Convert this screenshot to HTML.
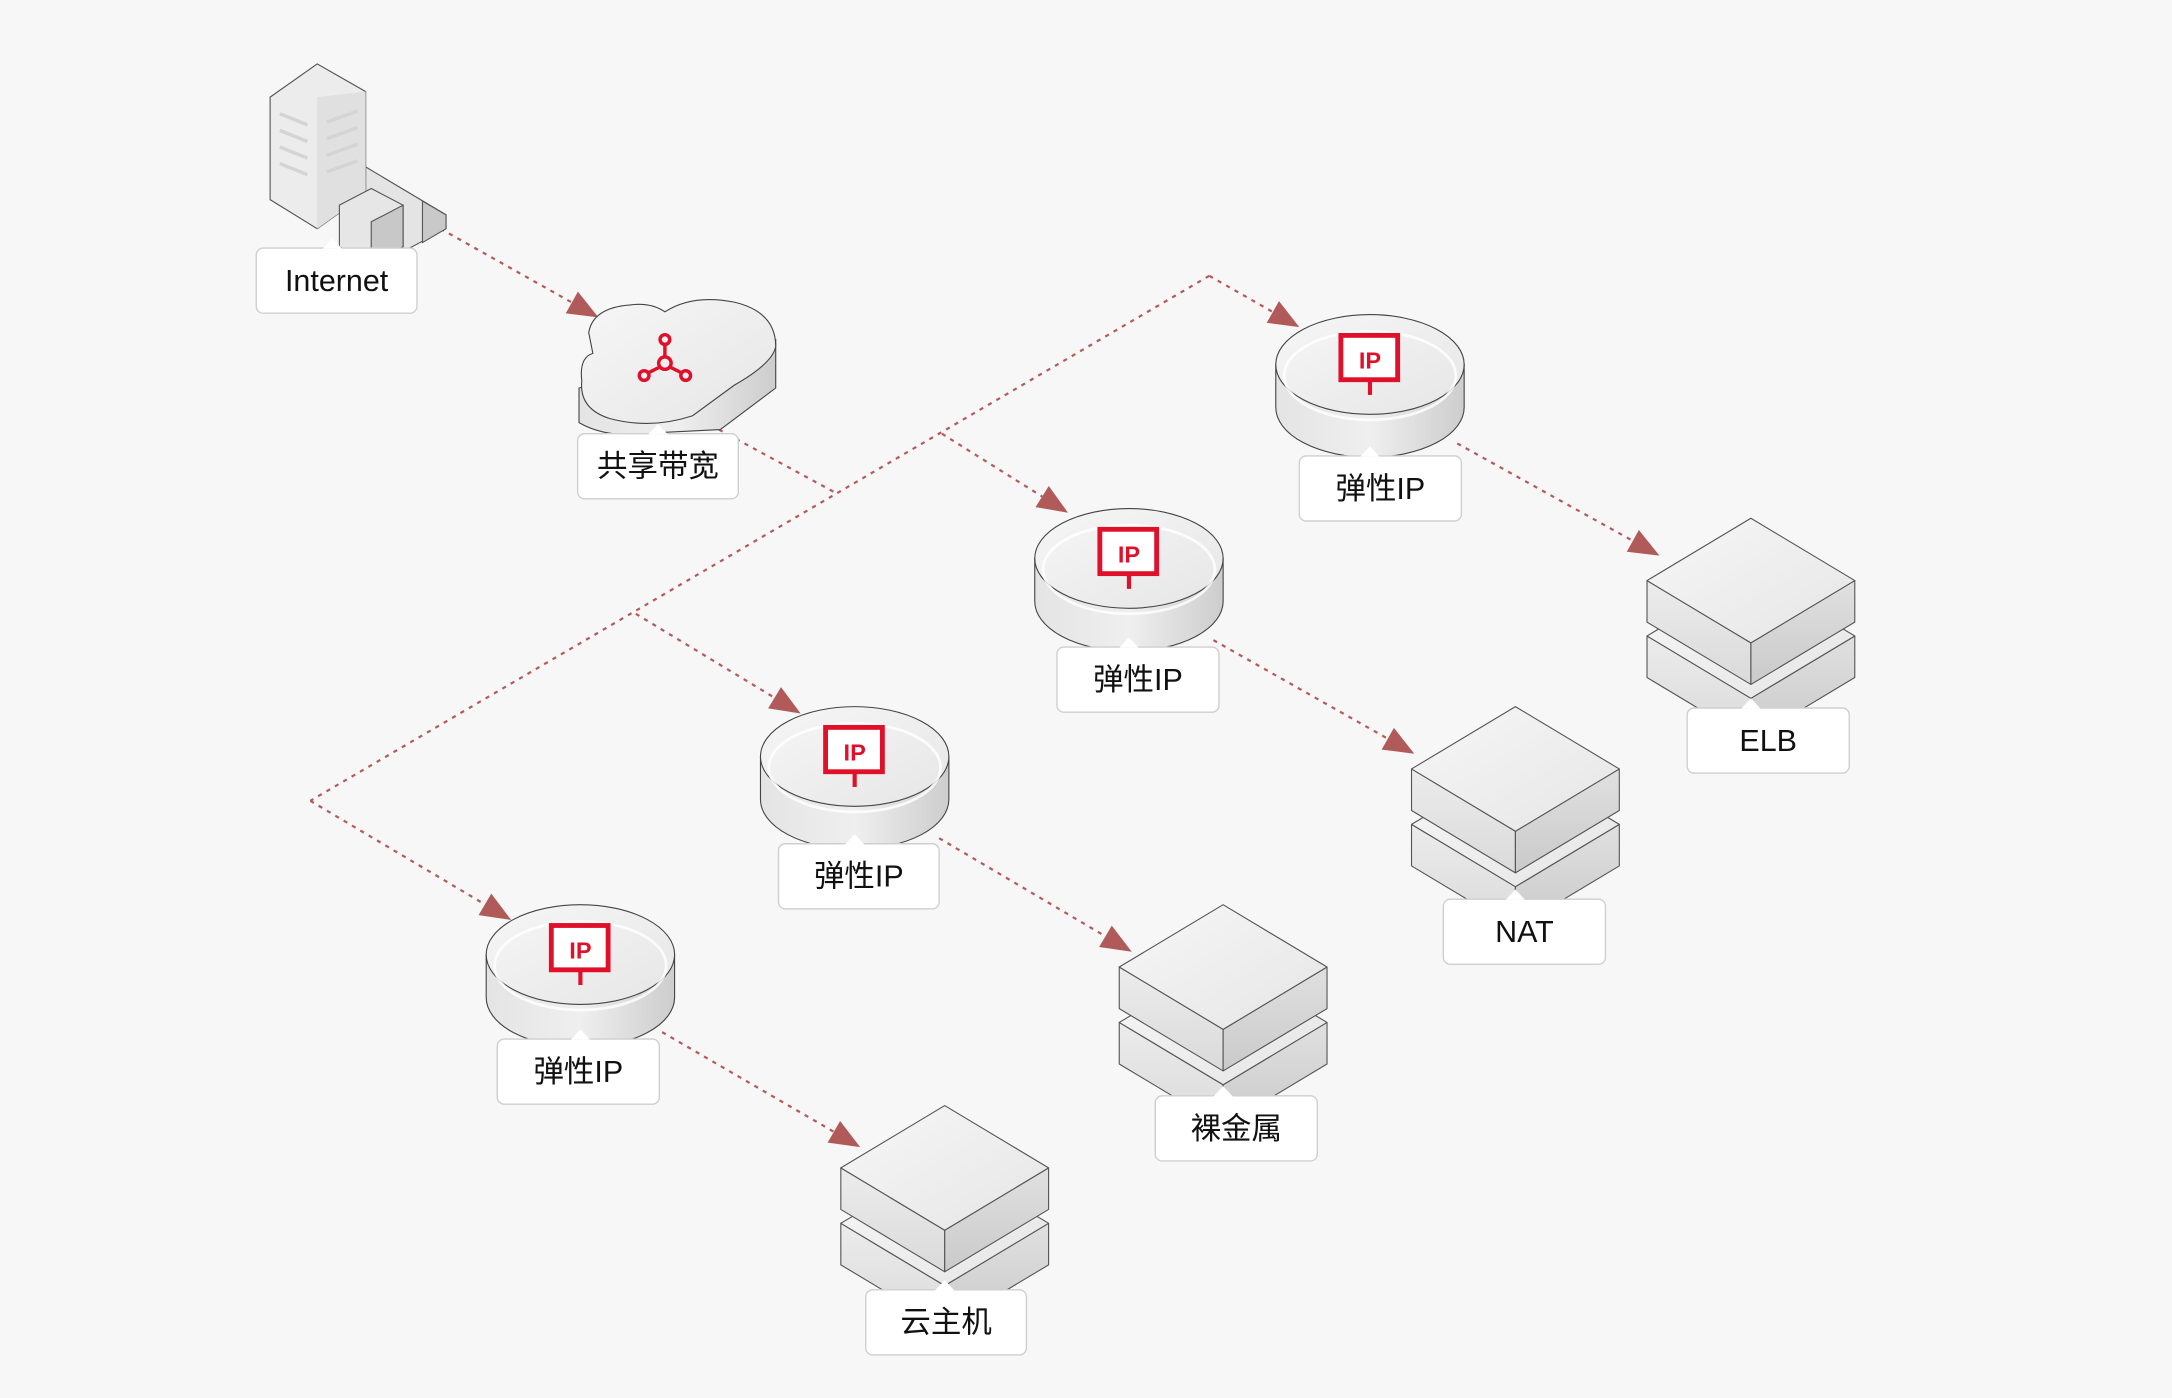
<!DOCTYPE html>
<html><head><meta charset="utf-8"><style>
html,body{margin:0;padding:0;background:#f7f7f7;}
svg{display:block;}
text{font-family:"Liberation Sans","Noto Sans CJK SC",sans-serif;}
</style></head><body>
<svg id="s" width="2172" height="1398" viewBox="0 0 1568 1009" xmlns="http://www.w3.org/2000/svg">
<defs>
<linearGradient id="gt" x1="0" y1="0" x2="1" y2="1"><stop offset="0" stop-color="#f6f6f6"/><stop offset="1" stop-color="#e6e6e6"/></linearGradient>
<linearGradient id="gl" x1="0" y1="0" x2="0" y2="1"><stop offset="0" stop-color="#ececec"/><stop offset="1" stop-color="#dadada"/></linearGradient>
<linearGradient id="gr" x1="0" y1="0" x2="0" y2="1"><stop offset="0" stop-color="#e0e0e0"/><stop offset="1" stop-color="#cacaca"/></linearGradient>
<linearGradient id="gc" x1="0" y1="0" x2="1" y2="0"><stop offset="0" stop-color="#e4e4e4"/><stop offset="0.5" stop-color="#efefef"/><stop offset="1" stop-color="#cdcdcd"/></linearGradient>
</defs>
<g id="lines" stroke="#b55a5a" stroke-width="1.6" stroke-dasharray="3,4" fill="none"></g>
<g id="nodes"></g>
</svg>
<script>
const NS="http://www.w3.org/2000/svg";
const L=document.getElementById('lines'),N=document.getElementById('nodes');
function el(p,t,a,txt){const e=document.createElementNS(NS,t);for(const k in a)e.setAttribute(k,a[k]);if(txt)e.textContent=txt;p.appendChild(e);return e;}
function line(x1,y1,x2,y2,arrow){
  if(arrow){
    const dx=x2-x1,dy=y2-y1,l=Math.hypot(dx,dy),ux=dx/l,uy=dy/l;
    const bx=x2-ux*22,by=y2-uy*22;
    el(L,'path',{d:`M${x1},${y1}L${bx},${by}`});
    el(N,'path',{d:`M${x2},${y2}L${bx-uy*9},${by+ux*9}L${bx+uy*9},${by-ux*9}z`,fill:'#b05a5a',stroke:'none'});
  } else el(L,'path',{d:`M${x1},${y1}L${x2},${y2}`});
}
line(318,165,432,229,1);
line(519,310,602,355);
line(873,199,224,578);
line(873,199,938,236,1);
line(680,313,771,370,1);
line(459,443,578,515,1);
line(224,578,369,664,1);
line(1052,320,1198,401,1);
line(876,462,1021,544,1);
line(678,605,817,687,1);
line(478,745,621,828,1);

function label(x,y,w,txt,pt){
  const g=el(N,'g',{});
  el(g,'rect',{x:x,y:y,width:w,height:47,rx:5,fill:'#fff',stroke:'#cfcfcf','stroke-width':1});
  const cx=pt||x+w/2;
  el(g,'path',{d:`M${cx-7},${y+0.5}L${cx},${y-7}L${cx+7},${y+0.5}z`,fill:'#fff'});
  el(g,'text',{x:x+w/2,y:y+31,'text-anchor':'middle','font-size':22,fill:'#111'},txt);
}
function slab(g,cx,t){
  const w=75,h=45,d=30;
  el(g,'path',{d:`M${cx-w},${t+h}L${cx},${t+2*h}L${cx},${t+2*h+d}L${cx-w},${t+h+d}z`,fill:'url(#gl)',stroke:'#555','stroke-width':0.8,'stroke-linejoin':'round'});
  el(g,'path',{d:`M${cx+w},${t+h}L${cx},${t+2*h}L${cx},${t+2*h+d}L${cx+w},${t+h+d}z`,fill:'url(#gr)',stroke:'#555','stroke-width':0.8,'stroke-linejoin':'round'});
  el(g,'path',{d:`M${cx},${t}L${cx+w},${t+h}L${cx},${t+2*h}L${cx-w},${t+h}z`,fill:'url(#gt)',stroke:'#555','stroke-width':0.8,'stroke-linejoin':'round'});
}
function box(cx,t){const g=el(N,'g',{});slab(g,cx,t+40);slab(g,cx,t);}
function cyl(cx,t){
  const g=el(N,'g',{});const rx=68,ry=36,top=t+ry,bot=t+103-ry;
  el(g,'path',{d:`M${cx-rx},${top}L${cx-rx},${bot}A${rx},${ry} 0 0 0 ${cx+rx},${bot}L${cx+rx},${top}z`,fill:'url(#gc)',stroke:'#444','stroke-width':0.8});
  el(g,'ellipse',{cx:cx,cy:top,rx:rx,ry:ry,fill:'url(#gt)',stroke:'#444','stroke-width':0.8});
  el(g,'ellipse',{cx:cx,cy:top+8,rx:rx-6,ry:ry-4,fill:'none',stroke:'#fff','stroke-width':2,opacity:0.8});
  const ix=cx-21,iy=t+15;
  el(g,'rect',{x:ix,y:iy,width:41,height:32,fill:'#fff',stroke:'#e0102a','stroke-width':3.5});
  el(g,'path',{d:`M${cx},${iy+33}L${cx},${iy+43}`,stroke:'#e0102a','stroke-width':3});
  el(g,'text',{x:cx,y:iy+24,'text-anchor':'middle','font-size':17,'font-weight':'bold',fill:'#e0102a'},'IP');
}
(function(){
  const g=el(N,'g',{stroke:'#555','stroke-width':0.8});
  el(g,'path',{d:'M255,115L322,155L322,165L290,182L255,160z',fill:'#e4e4e4'});
  el(g,'path',{d:'M305,145L322,155L322,165L305,175z',fill:'#c9c9c9'});
  el(g,'path',{d:'M195,70L229,46L264,66L264,140L229,165L195,144z',fill:'#ececec'});
  el(g,'path',{d:'M229,70L264,66L264,140L229,165z',fill:'#e0e0e0',stroke:'none'});
  for(let i=0;i<4;i++){el(g,'path',{d:`M202,${82+i*12}L222,${90+i*12}`,stroke:'#d4d4d4','stroke-width':2.5});el(g,'path',{d:`M236,${88+i*12}L258,${80+i*12}`,stroke:'#d4d4d4','stroke-width':2.5});}
  el(g,'path',{d:'M245,148L268,136L291,148L291,178L268,190L245,178z',fill:'#e6e6e6'});
  el(g,'path',{d:'M268,160L291,148L291,178L268,190z',fill:'#c8c8c8'});
})();
(function(){
  const g=el(N,'g',{});
  el(g,'path',{d:'M418,280 L418,305 Q440,318 480,312 L520,310 L560,280 L560,245 Z',fill:'url(#gc)',stroke:'#444','stroke-width':0.8});
  el(g,'path',{d:'M425,240 Q428,222 455,220 Q470,218 480,225 Q500,212 530,218 Q560,225 560,250 Q558,262 530,278 L500,300 Q470,310 440,302 Q418,295 420,275 Q418,258 428,255 Z',fill:'url(#gt)',stroke:'#444','stroke-width':0.8});
  el(g,'circle',{cx:480,cy:245,r:3.5,fill:'none',stroke:'#e0102a','stroke-width':2.5});
  el(g,'circle',{cx:480,cy:262,r:4.5,fill:'none',stroke:'#e0102a','stroke-width':2.5});
  el(g,'circle',{cx:465,cy:271,r:3.5,fill:'none',stroke:'#e0102a','stroke-width':2.5});
  el(g,'circle',{cx:495,cy:271,r:3.5,fill:'none',stroke:'#e0102a','stroke-width':2.5});
  el(g,'path',{d:'M480,249L480,257M476,265L468,269M484,265L492,269',stroke:'#e0102a','stroke-width':2.5});
})();
cyl(989,227);cyl(815,367);cyl(617,510);cyl(419,653);
box(1264,374);box(1094,510);box(883,653);box(682,798);
label(185,179,116,'Internet',240);
label(417,313,116,'共享带宽',475);
label(938,329,117,'弹性IP',989);
label(763,467,117,'弹性IP',815);
label(562,609,116,'弹性IP',617);
label(359,750,117,'弹性IP',419);
label(1218,511,117,'ELB',1264);
label(1042,649,117,'NAT',1094);
label(834,791,117,'裸金属',883);
label(625,931,116,'云主机',682);
</script>
</body></html>
